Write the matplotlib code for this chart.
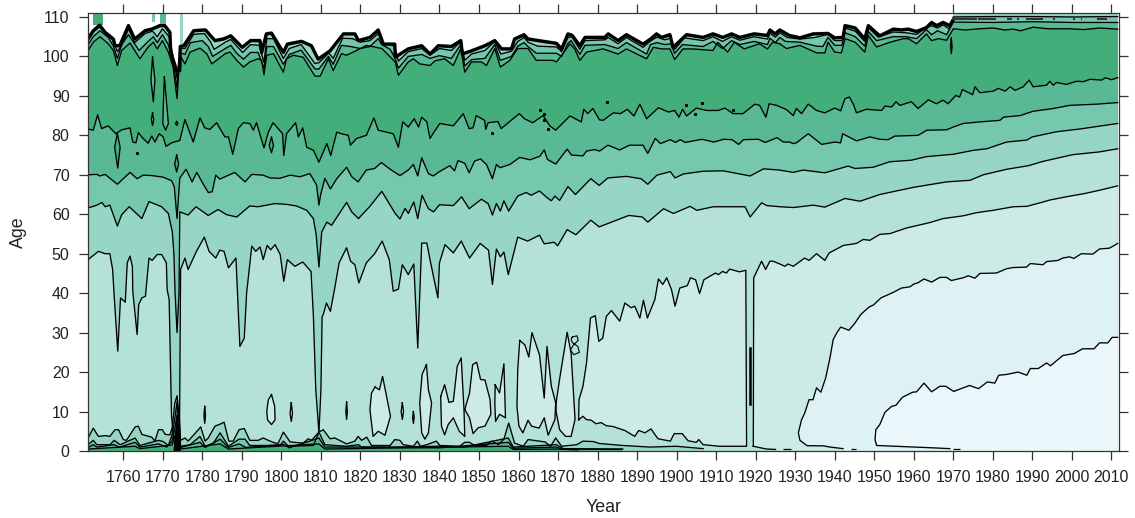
import numpy as np
import matplotlib
matplotlib.use('Agg')
import matplotlib.pyplot as plt

plt.rcParams['font.family'] = ['Liberation Sans', 'DejaVu Sans']

# contour lines, as (year, age)
# white edge of the surface at the top
top_edge = [(1751.1,105),(1752.4,107),(1754,108.4),(1755.4,106.6),(1757.5,104.9),(1757.9,103.2),(1759.1,103.2),(1761.3,108.3),(1762.9,104.9),(1765.5,107),(1767.2,107.4),(1769.3,108.3),(1770.5,108.3),(1771.8,106.6),(1772,101.5),(1773.5,96.9),(1774.3,96.9),(1774.4,103),(1775.3,103.2),(1777.8,107),(1780.8,107.2),(1783.2,104.5),(1785.3,104.9),(1787.2,105.7),(1790.1,102.8),(1792.2,104.5),(1794.6,104.5),(1795,101.5),(1796.2,106.2),(1797.5,106.4),(1800.5,101.5),(1801.5,103.6),(1805.1,104.3),(1807.6,103.2),(1809.3,99.8),(1812.3,101.9),(1815.7,106.2),(1818.6,106.2),(1819.5,104.5),(1822.4,105.3),(1824.5,107.2),(1825.8,103.6),(1828.7,103.6),(1828.8,100.3),(1832.1,102.4),(1835.5,103.2),(1837.6,101.1),(1839.7,103.2),(1843,103),(1845.4,104.5),(1845.8,101.1),(1848.1,101.9),(1851.5,103.2),(1854,104.5),(1855.7,102.4),(1858.2,102.4),(1859,104.9),(1861.4,106),(1862.4,104.9),(1865,104.5),(1869.6,103.8),(1870.9,102.4),(1872.5,106.2),(1873.6,105.8),(1875.5,103.2),(1876.8,105.3),(1881.8,105.3),(1882.7,106.2),(1885.2,104.5),(1887.3,106),(1891.5,103.6),(1893.4,104.9),(1894.9,106.2),(1896.2,105.3),(1898.3,106),(1899.1,102.8),(1902.5,106),(1906.7,105.3),(1909.2,106.2),(1911.7,105.3),(1913.9,106.2),(1916,105.3),(1919.6,106.2),(1923,105.8),(1923.6,107.2),(1924.9,106.2),(1926.1,107.2),(1928.5,105.8),(1931.2,105.2),(1934.6,106.2),(1938.3,106.3),(1940,105.2),(1942.1,105.3),(1942.6,108.3),(1945.2,107.7),(1947.6,104.9),(1948.5,108.3),(1951.4,105.7),(1954.8,107.4),(1956.9,107.2),(1958.6,107.4),(1960.7,106.8),(1963.2,107.8),(1964.5,109.1),(1965.8,108.3),(1967.4,109.1),(1969.1,108.3),(1969.8,109.5),(1970,111),(2011.6,111)]
top_line3 = [(1751.1,104.2),(1752.4,106.2),(1754.1,107.6),(1755.6,105.8),(1757.5,104),(1758.5,101.2),(1759.6,102.8),(1761.3,107),(1762.9,103.5),(1765.5,105.8),(1767.4,106.4),(1768.6,105),(1769.9,107),(1771.6,105),(1772.6,100),(1773.6,94.5),(1774.3,102),(1775.6,102),(1777.8,105.6),(1780.5,105.8),(1782,103.8),(1783,101.8),(1785.8,103.6),(1787.2,104.3),(1790.2,101),(1792.2,103),(1794.4,102.8),(1795.6,98.5),(1796.3,104.5),(1798,104.5),(1800.5,99.5),(1802,102),(1805,103),(1808.5,98.2),(1809.5,98.4),(1812,100.9),(1813.1,99.5),(1815.5,104.6),(1818,104.5),(1820,103.6),(1822.4,104),(1824.5,105.8),(1825.6,103.4),(1828.7,102.6),(1829.6,98.8),(1832.1,101.2),(1835.5,102),(1837.6,100.3),(1840,102),(1843,101.5),(1845.4,103.8),(1846.4,99),(1848.1,100.6),(1851.5,101.5),(1854,103.8),(1855.5,100.6),(1858.2,101.3),(1859.8,103.8),(1861.4,104.8),(1862.4,103.6),(1864.8,102.6),(1869.6,102.4),(1870.9,101.2),(1872.5,104.8),(1873.5,105),(1875.5,101.8),(1876.8,104),(1881.8,104.2),(1882.7,104.8),(1885.2,103.2),(1887.3,104.8),(1891.5,102.3),(1893.4,103.9),(1895,104.9),(1897,104.2),(1898.4,104.6),(1899.5,101.8),(1902,104.7),(1906.7,104),(1909.2,105),(1911.6,103.8),(1913.9,105),(1916,104.1),(1919.6,105),(1923,104.4),(1923.6,105.9),(1925,104.9),(1926.1,106),(1928,104.8),(1931.2,104.4),(1935,104.8),(1938.3,105.6),(1940,104),(1941.8,104),(1942.6,107.2),(1945.2,106.4),(1947.6,103.8),(1948.5,107.3),(1951,104.9),(1954.8,106.2),(1958,106),(1960.7,105.6),(1963.2,107.3),(1964.5,107.8),(1966,107.2),(1967.4,108),(1969,107),(1970,110),(1980,110.1),(1990,110.1),(2000,110),(2011.6,110.1)]
top_line2 = [(1751.1,103),(1752.4,105),(1754.1,106.5),(1756.2,104.8),(1757.5,102.6),(1758.5,99.5),(1759.6,103),(1761.3,105.5),(1764,101.5),(1766.3,103.8),(1767.6,105),(1768.6,103.5),(1769.9,105.5),(1771.4,103),(1772.6,98.5),(1773.6,92),(1774.3,101),(1775.6,100.5),(1777,103.5),(1780,104),(1781.5,102.5),(1782.6,100),(1785.8,102),(1787.2,102.8),(1788.7,100.8),(1790.4,99.3),(1792.2,101),(1794.1,101),(1795.6,97),(1796.3,102.5),(1798,102.5),(1800.5,98),(1802,100.5),(1805,101.6),(1808.5,96.8),(1809.5,96.8),(1811.9,100),(1813.1,98),(1815.2,102.8),(1817.5,102.5),(1820,102),(1822.4,102.5),(1824.5,104.5),(1825.4,103),(1827.5,101.8),(1828.8,99.5),(1829.6,97),(1832.1,100),(1835.5,100.5),(1837.6,99.5),(1840,100.2),(1843,99.5),(1845.4,103),(1846.4,97.6),(1848.1,99.2),(1851.5,99.5),(1854,103),(1855.4,99),(1858.2,100),(1859.8,102.6),(1861.4,103.5),(1862.4,102.5),(1864.5,100.8),(1869.6,100.8),(1870.9,100),(1872.5,103.3),(1873.3,104),(1875.5,100.5),(1876.8,102.8),(1881.8,103),(1885.2,102),(1887.3,103.5),(1892.4,100.6),(1893.4,103),(1895,103.5),(1897,103),(1898.5,103.2),(1899.5,100.8),(1901.5,103),(1906.7,102.5),(1909.2,103.8),(1911.6,102),(1913.9,104),(1916,103),(1919.6,103.8),(1923,103),(1923.6,104.6),(1925,103.5),(1926.1,104.8),(1927.5,103.8),(1931.2,103.6),(1935.4,102.6),(1937,102.5),(1938.3,104.8),(1940,102.8),(1941.8,102.8),(1942.6,106),(1945.2,105),(1947.6,102.6),(1948.5,106.3),(1950.6,104),(1954.8,105),(1958,105),(1960.7,104.5),(1963.2,106.8),(1964.5,105.5),(1966,106.5),(1968.3,105.5),(1970,108.7),(1980,108.6),(1990,108.8),(2000,108.6),(2011.6,108.6)]
top_line1 = [(1751.1,101.5),(1752.4,103.6),(1754.1,105),(1756.2,103.2),(1757.5,101.5),(1758.5,97.7),(1759.6,101.5),(1761.7,103.4),(1764.2,99.4),(1766.3,102.4),(1767.6,103.6),(1768.6,101.9),(1769.9,104),(1771.4,101.1),(1772.6,97.3),(1773.6,89.3),(1774.3,100.3),(1775.6,98.1),(1776.9,101.1),(1779.4,102.1),(1781.1,100.7),(1782.4,98.1),(1785.8,100.7),(1787,101.1),(1788.7,99),(1790.4,97.3),(1792,98.6),(1794.1,99.4),(1795,99),(1795.6,95.4),(1796.3,100.3),(1798,100.7),(1800.5,96),(1801.3,99.4),(1803,100.3),(1805.5,99.8),(1808.5,95),(1809.8,95),(1811.9,99.4),(1813.1,96.4),(1815.2,100.7),(1816.5,100.3),(1819,101.5),(1821.5,102.8),(1825.4,102),(1828.8,98.6),(1829.6,95.2),(1832.1,98.6),(1833.4,99.4),(1835,98.1),(1837.6,97.7),(1838.9,98.9),(1841.3,99.4),(1843.5,97.7),(1845.4,102),(1846.4,96),(1848.1,98.6),(1850.6,98.6),(1851.9,97.7),(1854,102),(1855.4,97.3),(1857.8,99),(1859.8,102),(1862.4,102),(1864.5,99),(1868.7,99),(1869.6,98.6),(1872.1,101.9),(1873,103.2),(1874.2,101.9),(1875.5,99),(1877.2,101.1),(1881.4,101.9),(1885.2,100.6),(1887.3,101.9),(1892.4,99.4),(1894.1,102.3),(1896.2,101.9),(1898.3,101.9),(1899.5,99.2),(1901.6,101.9),(1904.1,101.9),(1909.2,101.5),(1910.4,103.6),(1912.9,101.1),(1914.6,103.6),(1917.1,101.9),(1920.9,103.2),(1923,101.9),(1924.3,103.6),(1926.1,103.2),(1927.8,102),(1931.2,102.8),(1935.4,100.9),(1937.5,100.9),(1938.3,103.6),(1940,101.1),(1941.7,100.9),(1942.6,104.5),(1945.2,103.6),(1947.6,101.1),(1948.5,105.3),(1950.6,102.4),(1954,103.6),(1957.4,104.5),(1958.6,104.5),(1960.7,103.2),(1963.2,105.7),(1964.5,104),(1966.2,104.5),(1968.3,104.1),(1970,107),(1973,106.7),(1976.7,107),(1980.1,107.2),(1983,106.7),(1985.2,106.9),(1987,106.5),(1990.2,107.4),(1994,107),(1999.5,107),(2003,106.8),(2007.1,107.2),(2011.6,106.9)]
top_dash_year0 = [1969.6, 1976.3, 1983.5, 1986.2, 1988.3, 1995.3, 2000.3, 2002.2, 2006.4]
top_dash_year1 = [1975.9, 1980.9, 1984.8, 1986.6, 1992.7, 1995.7, 2000.7, 2002.6, 2008.8]
top_dash_age = [109.5, 109.5, 109.5, 109.5, 109.5, 109.5, 109.5, 109.5, 109.5]

# level lines running across the whole surface
level_67 = [(1751.1,81.6),(1752.4,81.3),(1753.5,85.2),(1754.5,81.7),(1756.2,82.4),(1758.1,80.4),(1759.6,81.4),(1761.7,81.9),(1762.4,78.3),(1763.2,78.1),(1763.8,80.7),(1765,79.2),(1766.3,78),(1767.2,79.8),(1768,78.3),(1769.1,80.4),(1770.1,79.6),(1770.8,77.2),(1772.2,78.1),(1774.3,78.7),(1775.6,84),(1777.7,78.3),(1779.4,84.4),(1780.6,81.9),(1781.9,81.5),(1783.6,83.2),(1785.7,79.6),(1786.6,79.6),(1787.7,75.2),(1789.1,81.7),(1790.4,83.2),(1792,83),(1792.9,81.3),(1793.7,83.2),(1795.6,76.8),(1796.7,80.8),(1797.9,83.2),(1800.3,80.4),(1800.6,74.9),(1801.3,80.4),(1803.6,83.2),(1804.3,79.6),(1805.4,81.9),(1806.4,77),(1808.1,76.2),(1809.5,73.2),(1811.5,77.9),(1812.5,74.9),(1814,80.8),(1815.2,80.4),(1816.9,80),(1817.5,77.5),(1819,79.2),(1821.5,80),(1823.4,84.4),(1824.5,81.3),(1828.3,80.4),(1829.6,77),(1830.7,83.4),(1832.1,82.1),(1833.6,84.2),(1834.7,82.1),(1835.5,84.6),(1836.8,83.4),(1837.6,79.2),(1838.6,80.8),(1840.1,83),(1843.5,82.4),(1846,85.5),(1847.5,81.7),(1848.5,81.9),(1849.3,85),(1851.4,83.8),(1851.7,81.5),(1852.3,83.2),(1854.8,83.5),(1855.6,81.7),(1860.2,85.5),(1861.5,84.2),(1863.6,83.2),(1866.2,85),(1867.9,82.4),(1869.4,81.3),(1873,84.9),(1875.9,83.4),(1876.5,86.6),(1877.5,85.5),(1878.8,86.8),(1880.5,83.9),(1881.4,83.8),(1884,85.7),(1885.8,85.5),(1887.5,86.6),(1889.2,84.9),(1890.7,87.9),(1892.4,84.2),(1895.4,87),(1897.9,85.9),(1899.5,86.3),(1900.6,84.6),(1901.5,86.6),(1902.5,84.9),(1905,86.9),(1907.6,86.3),(1910.5,86.3),(1912.2,86.9),(1914.3,85.5),(1916.8,85.5),(1919.8,87.9),(1921,87.6),(1922.6,84.6),(1923.4,88),(1925.3,87.6),(1927.8,86.5),(1929.5,85),(1930.3,86.8),(1931.6,85.5),(1933.3,87.9),(1935.4,86.3),(1937.5,85.7),(1940,86.9),(1941.5,86.2),(1942.6,89.3),(1943.7,89.7),(1944.7,87.9),(1945.5,85.7),(1948,86.6),(1951.9,86.3),(1952.7,87.4),(1954.4,87.2),(1955.5,88.5),(1956.5,87.6),(1959.4,88.5),(1961.1,86.8),(1963.7,89),(1965.7,88),(1967.4,88.9),(1968.7,88),(1970.6,90.1),(1971.6,89.7),(1972.3,91.6),(1974.9,90.3),(1975.5,92.3),(1976.7,90.8),(1980.1,91.2),(1981.4,91.9),(1983.1,91.2),(1984.4,92.3),(1985.6,91.4),(1987.7,92.3),(1989.2,94),(1990.2,92.3),(1993.6,92.7),(1994.4,93.7),(1995.3,92.7),(1996.1,93.4),(1998.6,92.9),(2001.2,93.7),(2002.9,93.6),(2004.6,94.2),(2007.5,94),(2008.5,94.6),(2010,94.1),(2011.6,94.6)]
level_56 = [(1751.1,70),(1753.3,70.1),(1754.1,69.7),(1755.4,70.1),(1758.5,67.6),(1761.7,70.6),(1763.5,69),(1765,69.9),(1767.2,69.8),(1770.1,69.4),(1772.2,68.5),(1772.9,67),(1773.6,58.9),(1774.3,69.2),(1775.9,71.4),(1777.4,68.2),(1778.6,70.6),(1779.9,68.2),(1781.5,65.5),(1782.5,65.7),(1783.4,69.9),(1784.4,68.9),(1788.2,70.6),(1790.8,68.2),(1792.5,70.1),(1795.4,69.9),(1797.1,69.2),(1799.6,69.1),(1802.2,69.9),(1804.7,69.5),(1807.2,70.3),(1808.9,67.4),(1809.5,62.3),(1809.9,64.8),(1811,69.1),(1812.4,66.4),(1814,69),(1816.5,71.9),(1817.8,69.5),(1819.4,68.2),(1821.5,71.2),(1823.6,71.6),(1825.3,73.1),(1827.8,71.2),(1830,69.8),(1832.1,71.2),(1833.4,72.6),(1834.5,69.7),(1835.5,74.3),(1837.2,70.3),(1838.4,69.7),(1840,70.8),(1842.6,72.3),(1843.8,71),(1844.7,73.6),(1846.4,72.9),(1847.5,70.5),(1848.9,73.5),(1850.4,74),(1851.9,72.6),(1853.4,69),(1854.4,72.6),(1855.3,71.8),(1857.8,72.6),(1860.3,74.4),(1862.9,73.8),(1865.4,74.7),(1866.5,76.3),(1867.3,73.9),(1869.4,72.7),(1872.3,76.5),(1873.4,75),(1876.3,74.8),(1877.2,76),(1879.2,76.4),(1880.5,76),(1882.6,77.5),(1885.6,76.3),(1888.1,77.5),(1891.5,77.5),(1892.7,75.4),(1894.6,79.2),(1895.9,77.9),(1898.4,78.9),(1899.7,78.2),(1900.9,78.9),(1902.2,78.2),(1906.4,79),(1909.4,78.3),(1911.9,79),(1914,78.9),(1915.7,77.7),(1916.9,78.9),(1920.7,79),(1922.4,78.2),(1925.4,79.4),(1927,78.3),(1928.6,78.3),(1929.5,77.9),(1930.3,78.1),(1933.3,80.4),(1936.7,77.7),(1940,78.3),(1941.5,78.1),(1942,80.4),(1945.5,78.6),(1948.9,79.6),(1951.4,79),(1953.5,78.9),(1955.2,79.8),(1961.1,80),(1963.3,81.3),(1968.3,81.4),(1970,82.1),(1972.5,83),(1976.7,83.4),(1981.8,83.8),(1982.7,84.6),(1986.9,85),(1990.2,86.1),(1995.3,86.8),(1999.5,87.6),(2006.3,87.9),(2011.6,88.3)]
level_45 = [(1751.1,61.6),(1753.3,62.3),(1754.6,63),(1755.4,61.9),(1756.6,62.3),(1758.5,57),(1759.6,59.9),(1761.5,61.9),(1764.7,58.9),(1766.5,63.2),(1769.7,61.9),(1771.4,60.2),(1772.4,55.5),(1772.8,50),(1773.1,40),(1773.6,30),(1774.1,40),(1774.3,60.6),(1776.4,59.8),(1778.4,61.9),(1781.5,59.7),(1784,61.2),(1786.1,59.9),(1788.7,59.3),(1792,62.1),(1794.1,61.9),(1798.4,62.7),(1801.3,62.5),(1803.8,62.1),(1806.4,61),(1808.1,58.9),(1808.8,54.8),(1809.5,46.6),(1810.2,55.5),(1811.5,58),(1812.7,57.2),(1816.5,63),(1817.8,60.6),(1819.5,58.9),(1822.4,62),(1825.4,65.8),(1828.8,60.2),(1830,58.8),(1831.3,61.5),(1832.1,60.2),(1833.5,63.1),(1834.5,58.9),(1835.6,64.8),(1837.2,61.4),(1838.5,60.6),(1840,62.4),(1843.5,62.2),(1845.6,64.4),(1847.5,61.4),(1850.6,63.8),(1852.3,62.7),(1853.4,59.8),(1854.4,62.7),(1855.4,60.8),(1856.3,63.4),(1857.5,60.8),(1859.8,64.6),(1861.9,65.5),(1863.2,64.8),(1865.3,65.9),(1867,64.4),(1868.3,63.4),(1869.2,64.6),(1870.4,63.5),(1872.5,67),(1874.4,65),(1878.3,69),(1880.4,67.3),(1882.6,69.2),(1887.3,69.6),(1891,69),(1892.7,67.6),(1895,69.9),(1898.4,70.8),(1899.6,69.2),(1901.7,70.2),(1906.7,70.9),(1911.8,71),(1918.6,69.7),(1922,71.5),(1926,71.2),(1929.5,70.6),(1932,71.2),(1937.5,70.5),(1943.4,72.2),(1945.1,71.6),(1949.7,71.9),(1953.9,73.3),(1959.4,73.7),(1963.2,74.6),(1970,75.2),(1975.1,76.2),(1978.5,76.6),(1983.5,78.3),(1988.6,78.8),(1990,79.6),(1996.1,80.9),(2002,81.6),(2011.6,83)]
level_34 = [(1751.1,48.5),(1753.7,50.6),(1755.4,50),(1756.6,50),(1757.3,46),(1757.7,39.2),(1758.6,25.3),(1759.3,38.8),(1760.5,37.7),(1761,47.7),(1761.7,49.4),(1762.3,46.8),(1762.4,40.5),(1763.5,29.5),(1763.9,37.1),(1764.7,38.8),(1765.6,39.2),(1766.5,48.9),(1767.3,48.3),(1768.6,49.8),(1769.7,49.8),(1770.9,47.7),(1771.1,40.9),(1771.6,38.4),(1772.2,8.8),(1772.9,2),(1773.6,0.5),(1774.2,2),(1774.4,30),(1774.5,46),(1775.6,48.9),(1776.4,46),(1778.5,50.6),(1780.5,54.2),(1781.7,50.6),(1783.4,48.9),(1784.4,50.9),(1785.5,50.6),(1786.6,46.4),(1788.5,48.9),(1789.5,26.5),(1790.6,28.6),(1791.2,40),(1792.5,51.9),(1793.5,50.6),(1794.6,51.7),(1795.4,48.5),(1796.4,52.1),(1797.3,51),(1798.4,52.3),(1799.7,49.8),(1800.6,43),(1801.5,48.5),(1803.4,46.8),(1805.4,47.9),(1807.5,45.5),(1808.1,34.1),(1808.7,15.5),(1809.5,4.6),(1810,15.5),(1810.3,34),(1810.6,34.6),(1811.4,37.5),(1812.4,35.4),(1813.5,41.3),(1814.6,47.7),(1816.5,51.5),(1817.5,48.1),(1818.6,47.2),(1819.6,42.6),(1821.5,47.7),(1823.6,50.0),(1825.5,53.2),(1827.3,48.5),(1828.3,40.5),(1829.6,41),(1830.6,47.2),(1832.1,44.7),(1833.5,47.4),(1834.5,26.1),(1835.5,52.7),(1836.8,52.7),(1837.7,48),(1839.6,38.8),(1840,47.7),(1841.4,52.3),(1843.5,50.2),(1845.5,53.2),(1847.6,48.9),(1850.3,52.6),(1852.4,50.9),(1853.4,42.2),(1854.4,51.2),(1855.4,49.2),(1856.3,50.4),(1857.4,44.7),(1859.8,54.2),(1862.3,53.2),(1865.3,54.7),(1866.5,52.5),(1869,52.9),(1869.9,52),(1872.3,56.1),(1874.5,54.8),(1878.3,58.5),(1880.4,56.8),(1887.9,59.7),(1891.3,59.3),(1892.7,58),(1896.7,61.4),(1899.2,60.2),(1903.4,62),(1905.1,61),(1909.3,61.9),(1917.3,61.9),(1918.6,59.3),(1921.5,62.9),(1922.8,62.2),(1926.1,61.9),(1929.5,61.7),(1934.6,62.3),(1937.5,61.8),(1942.6,64),(1946.4,63.3),(1951.4,65),(1959.8,66.8),(1968.3,68.2),(1974.2,68.6),(1977.6,70),(1983.5,71.4),(1989,72.3),(1992.7,73.4),(2000.2,75.1),(2007,75.8),(2011.6,76.6)]

# lines close to age 0
low_34 = [(1751.1,3.3),(1752.4,5.8),(1753.7,3.7),(1755.6,3.9),(1756.6,3.7),(1757.9,5.4),(1758.8,5.4),(1760,2.9),(1760.8,2.7),(1763,6.1),(1763.8,6.3),(1764.7,4.2),(1767.2,3.5),(1768,2.5),(1768.9,5.4),(1769.9,5.4),(1770.6,4.2),(1771.8,4.1),(1772.4,6),(1773,12),(1773.6,14),(1774.2,8),(1774.5,2.7),(1775.6,3.3),(1776.4,2.5),(1778.1,4.4),(1779.6,6.1),(1780.7,2.5),(1781.5,3.3),(1783.2,6.3),(1784.5,6.8),(1785.5,7.3),(1786.7,2.5),(1787.8,2.5),(1789.3,5.4),(1790.6,5.7),(1792,2.7),(1794.1,2.7),(1795.4,3.3),(1796.7,2.7),(1798.4,2),(1799.2,2),(1800.5,4.8),(1802.2,2.3),(1805.5,2),(1806.8,3.1),(1807.6,2.7),(1809.5,4.8),(1810.6,5.4),(1812.3,3.1),(1813.5,3.3),(1816.5,1.8),(1818.6,2.5),(1819.4,3.7),(1820.3,2.7),(1821.6,3.5),(1822.8,1.4),(1827.5,1.4),(1828.7,2.9),(1830,2.7),(1830.8,1.6),(1833.4,1.2),(1834.4,2.5),(1835.2,1.2),(1836.8,1.6),(1839.2,2.5),(1840.1,1.4),(1845.1,1.2),(1846.4,2.2),(1847.6,2.2),(1848.9,1.4),(1851.9,1.4),(1853.2,2.5),(1854.9,1.6),(1856.3,3),(1857.5,7.1),(1859,2),(1861.2,1.2),(1862.4,2.9),(1866.7,2.3),(1868.1,1.2),(1869.4,3.3),(1870.9,1.2),(1874.7,1.6),(1876.3,2.5),(1878.9,2.4),(1880.5,1.9),(1886.4,1.4),(1893.2,1),(1899.9,1.2),(1906.7,0.6)]
low_45 = [(1751.1,1.6),(1752.4,2.7),(1753.3,1.6),(1756.6,1.6),(1757.7,2.7),(1759.2,1.6),(1763,3.3),(1764.2,1.4),(1768.9,2.7),(1770.1,2.4),(1771.4,1.4),(1772.3,4),(1773,8),(1773.6,12.5),(1774.2,6),(1774.5,1.2),(1776.9,1.6),(1779.4,3.7),(1780.7,1.2),(1782.8,2),(1784.5,4.6),(1786.6,1.2),(1789.3,3),(1790.8,3),(1792,1.4),(1799.7,1.4),(1800.5,2.5),(1801.8,1.2),(1808.1,1.4),(1809.5,4.8),(1811,1.6),(1816.5,1.2),(1819.5,1.6),(1820.3,1),(1828.3,1),(1839.7,1.2),(1846.2,1),(1857.4,3.3),(1858.7,1),(1869.6,1.6),(1871.3,0.6),(1886.4,0.5)]
low_56 = [(1751.1,0.9),(1752.4,1.6),(1753.3,1),(1757.7,1.6),(1759,1),(1763,2.2),(1764.2,1),(1768.9,1.8),(1771,1),(1772.3,2.5),(1773,5.5),(1773.6,9),(1774.2,4),(1774.5,0.9),(1779.4,2.2),(1780.7,0.9),(1784.5,3),(1786.6,0.9),(1789.3,1.8),(1791,0.9),(1800.5,1.7),(1802,0.8),(1809.5,3.3),(1811,1),(1820,1),(1840,0.8),(1857.4,2.2),(1858.7,0.7),(1869.6,1),(1870.9,0.5),(1886,0.4)]
low_67 = [(1751.1,0.5),(1763,1.2),(1764.2,0.6),(1772.3,1.5),(1773,3.5),(1773.6,6),(1774.2,2.5),(1774.5,0.5),(1784.5,1.8),(1786.6,0.5),(1809.5,1.8),(1811,0.5),(1857.4,1.2),(1858.7,0.4),(1869.6,0.5),(1875,0.3)]
# black knot of contours at the 1773 spike
spike_core = [(1772.7,0),(1773,3),(1773.4,7.5),(1773.6,13),(1773.8,7.5),(1774.2,4),(1774.5,0)]
low_dash_year0 = [1927, 1944, 1970]
low_dash_year1 = [1929, 1945.3, 1971.6]
low_dash_age = [0.6, 0.6, 0.5]

# the pale areas on the right, age 0 points are the axis and get no outline
area_2a = [(1875.2,7.9),(1875.3,13),(1876.3,16.4),(1877.2,22.3),(1878.2,33.7),(1879.4,34.3),(1880.3,27.8),(1881.3,28.6),(1882.2,34.1),(1883.5,35.6),(1885.6,32.9),(1886.9,37.5),(1888.5,36.3),(1889.4,36.7),(1890.7,33.7),(1891.6,38.2),(1892.6,33.7),(1894.5,38.4),(1895.4,43.6),(1896.5,42.2),(1897.5,43.9),(1898.7,40.9),(1899.6,36.7),(1900.8,41.3),(1902.7,41.9),(1903.5,43.9),(1904.8,43.4),(1905.8,39.9),(1906.9,43.4),(1909.8,45.1),(1910.6,44.7),(1911.6,45.5),(1912.6,45.1),(1913.4,46.1),(1915.9,45.4),(1917.5,45.8),(1917.7,1.2),(1910.9,1.2),(1906.7,1.6),(1905.6,2.9),(1905,2.2),(1902.9,2.6),(1901.4,4.4),(1899.4,4.4),(1898.4,2.5),(1895.3,3.1),(1893.5,5.6),(1892,4.6),(1890.4,5.2),(1889.4,3.7),(1886.9,5.2),(1883.9,6.2),(1882.2,6.4),(1880.9,7.2),(1879.6,6.9),(1878.4,7.8),(1877.1,8),(1876.3,8.8)]
area_2b = [(1919.4,1.2),(1919.5,43.9),(1921.5,48.1),(1922.5,46),(1923.6,48.1),(1924.4,48.1),(1926.1,47.4),(1927.4,46.8),(1928.2,47.4),(1929.5,46.8),(1932.4,48.9),(1933.5,48.3),(1935.4,50),(1937.5,48.3),(1938.6,50.2),(1942.2,52.1),(1945.5,52.6),(1947.2,53.6),(1948.9,53.4),(1951.4,54.9),(1954,55.1),(1958.1,56.5),(1964.1,57.9),(1967.4,58.9),(1972.5,59.6),(1975.9,60.4),(1980.1,61),(1985.2,61.9),(1988.6,62),(1992.7,63.1),(1994.4,63.6),(1999.5,64.6),(2003,65.2),(2007.1,66.1),(2011.6,67.2),(2011.6,0),(1926,0),(1925,0.4),(1922.7,0.5)]
area_1 = [(1942.1,0.6),(1938.8,1),(1937.2,1.3),(1933,1.35),(1931.2,2.7),(1930.8,4.6),(1931.6,7.9),(1932.4,9.6),(1933.5,13),(1934.5,13),(1935.4,16),(1936.5,14.9),(1937.7,18.5),(1938.8,23.6),(1939.6,28.2),(1940.5,29.9),(1941.5,31.4),(1943.6,30.6),(1945.1,32.4),(1946.6,34.6),(1948.7,36.5),(1949.8,37),(1951.7,38.8),(1954.8,40.2),(1956.9,41.3),(1959,41.6),(1960,42.3),(1961,42.6),(1962.6,43.6),(1964.5,42.8),(1966.6,44),(1968.3,44),(1969.5,43.2),(1972.5,43.9),(1973.8,44.4),(1975.5,43.8),(1976.7,45),(1980.9,45.1),(1983.5,46.2),(1985.2,46.5),(1988.5,46.6),(1989.5,47.5),(1992.7,47.2),(1993.6,48),(1996.5,48.3),(1997.7,48.9),(1999.4,49.2),(2000.5,48.8),(2002.4,50),(2005.3,49.9),(2007,51.2),(2009.5,51.4),(2011.6,52.6),(2011.6,0),(1942.5,0)]
area_0 = [(1969.1,0.6),(1964.9,0.8),(1950.6,1.4),(1950.2,2.9),(1950.4,5.4),(1951.4,6.7),(1952.7,9.8),(1954.4,11.3),(1955.5,11.6),(1957.1,13.6),(1959.7,14.9),(1960.7,15),(1962.6,17.2),(1964.5,15),(1966.6,16.4),(1968.1,16.4),(1970.1,15.1),(1974.1,16.6),(1976.4,15.8),(1978.6,17.5),(1980.5,17.2),(1981.5,19.2),(1983.5,19.4),(1986.4,20),(1988.6,19.2),(1989.5,20.9),(1991.5,20.9),(1993.6,22.3),(1994.6,21.6),(1997.7,24.2),(2000.6,24.7),(2002.7,25.9),(2005.6,25.9),(2007,27.4),(2009.1,27.4),(2010.2,28.8),(2011.6,28.8),(2011.6,0),(1969.5,0)]

# closed islands of the next paler band inside level 3
islands_pale = [
    [(1797.5,14.3),(1796.7,13),(1796.3,10.1),(1796.5,7.9),(1797.5,6.7),(1798.4,7.9),(1798.3,11.3)],
    [(1823.7,16.2),(1822.8,14.7),(1822.4,10.5),(1823.2,3.7),(1824.5,5),(1826.2,4),(1827.6,8.8),(1826.6,13.9),(1825.6,18.9),(1824.8,15.5)],
    [(1836.7,21.9),(1835.6,19.4),(1835,12.2),(1835.5,4.6),(1836.3,3),(1837.2,4.6),(1838,12.2),(1837.2,15.5)],
    [(1840.3,13.8),(1841.3,16.8),(1842.4,12.3),(1843.5,12.6),(1844.5,21.5),(1845.5,23.6),(1846.2,10.5),(1846.4,3.7),(1845,5),(1843.5,8.4),(1842.2,6.7),(1841.3,4.1),(1840.5,6.3)],
    [(1846.4,10.5),(1847.6,14.7),(1848.4,21.9),(1849.4,22.5),(1850.4,18.1),(1851.5,18),(1852.8,13),(1853,9.3),(1851.5,6.3),(1849.8,5.9),(1848.5,4.4),(1847.6,8.4)],
    [(1854.1,16.8),(1855.2,14.7),(1856.3,22.1),(1856.7,8.4),(1855.2,9.3),(1854.2,7.5),(1854,12)],
    [(1860.3,28),(1861.6,26.9),(1862.6,23.8),(1863.4,30),(1865.3,24.4),(1866.5,13.4),(1867.2,26.5),(1868.3,16.4),(1869.4,12.2),(1869.2,8),(1867.5,4),(1866.5,8.4),(1865.2,5.8),(1863.3,6.3),(1862.4,7.8),(1861.1,4.6),(1860.1,6.3),(1859.6,11.3),(1859.8,20.6)],
    [(1869.5,12.2),(1870.5,18.9),(1872.3,30.1),(1873.3,24.8),(1874.3,8),(1873.3,3.7),(1871.9,3.7),(1870.4,5.4),(1869.5,10)],
]
slivers_pale = [
    [(1780.6,11.3),(1780.8,9),(1780.6,7),(1780.4,9)],
    [(1802.5,12.2),(1802.8,9.5),(1802.5,7.5),(1802.2,9.5)],
    [(1816.5,12.4),(1816.7,10),(1816.5,8),(1816.3,10)],
    [(1830.6,12.2),(1830.9,10),(1830.6,8),(1830.3,10)],
    [(1833.4,10),(1833.6,8.5),(1833.4,7),(1833.2,8.5)],
]
flu_year = [1918.5, 1918.5]
flu_age = [12, 26]
eight_loop = [(1873.6,28.9),(1874.8,29.2),(1875.1,28),(1874,27),(1873.1,25.6),(1874,24.4),(1875.4,25),(1875,26.5),(1873.6,27.5),(1873.3,28.3),(1873.6,28.9)]

# islands up in the dark band
islands_l6 = [
    [(1767.4,99.8),(1768,94),(1767.6,88.5),(1767,94)],
    [(1767.4,85.7),(1767.7,84),(1767.4,82.5),(1767.1,84)],
    [(1770.4,94.8),(1770.8,90),(1771.4,83),(1770.7,81.3),(1770,83),(1770.2,90)],
    [(1773.5,83.5),(1773.8,83),(1773.5,82.5),(1773.2,83)],
    [(1969.5,104.6),(1969.7,102.5),(1969.5,100.7),(1969.3,102.5)],
]
islands_l7 = [
    [(1758.5,80.4),(1759.2,77),(1758.6,71.7),(1757.8,77)],
    [(1797.5,79.5),(1798,77.5),(1797.5,75.6),(1796.9,77.5)],
    [(1773.5,75),(1774,72.8),(1773.5,70.7),(1773,72.8)],
]
speck_year = [1763.5, 1853.4, 1867.5, 1865.4, 1882.5, 1902.3, 1904.6, 1906.5, 1914.3, 1866.4, 1866.4]
speck_age = [75.5, 80.5, 81.7, 86.4, 88.4, 87.6, 85.5, 88.3, 86.4, 83.8, 85.3]

# bars of missing values that reach the top of the plot
bar_year0 = [1752.3, 1767.3, 1769.3, 1774.3]
bar_year1 = [1754.8, 1768, 1770.8, 1775.1]
bar_age0 = [108, 108.6, 108, 102]
bar_age1 = [111, 111, 111, 111]
bar_color = ['#43AE79', '#75C7AD', '#58B994', '#97D6C5']

band_colors = ['#EAF7FB', '#DEF1F5', '#CDEBE6', '#B4E2D8', '#97D6C5', '#75C7AD', '#58B994', '#43AE79']
year_ticks = list(range(1760, 2011, 10))
age_ticks = list(range(0, 111, 10))

fig = plt.figure(figsize=(11.35, 5.18), dpi=100)
ax = fig.add_axes([88 / 1135, 67 / 518, 1031.3 / 1135, 438 / 518])


def fill_under(curve, color, z):
    pts = np.array(curve)
    xs = np.r_[pts[:, 0], pts[-1, 0], pts[0, 0]]
    ys = np.r_[pts[:, 1], 0, 0]
    ax.fill(xs, ys, color=color, lw=0, zorder=z)


def line(curve, z=5, lw=0.95, close=False):
    pts = np.array(curve, dtype=float)
    if close:
        pts = np.vstack([pts, pts[:1]])
    pts[pts[:, 1] == 0, 1] = np.nan
    ax.plot(pts[:, 0], pts[:, 1], color='black', lw=lw, zorder=z, solid_joinstyle='round')


def blob(curve, color, z=3, close=True):
    pts = np.array(curve)
    ax.fill(pts[:, 0], pts[:, 1], color=color, lw=0, zorder=z)
    line(curve, close=close)


# paint from the top of the surface downwards
fill_under(top_edge, band_colors[4], 1)
fill_under(top_line3, band_colors[5], 1)
fill_under(top_line2, band_colors[6], 1)
fill_under(top_line1, band_colors[7], 1)
fill_under(level_67, band_colors[6], 1)
fill_under(level_56, band_colors[5], 1)
fill_under(level_45, band_colors[4], 1)
fill_under(level_34, band_colors[3], 1)
fill_under(low_34, band_colors[4], 2)
fill_under(low_45, band_colors[5], 2)
fill_under(low_56, band_colors[6], 2)
fill_under(low_67, band_colors[7], 2)

for y0, y1, a0, a1, c in zip(bar_year0, bar_year1, bar_age0, bar_age1, bar_color):
    ax.fill_between([y0, y1], a0, a1, color=c, lw=0, zorder=1)

blob(area_2a, band_colors[2])
blob(area_2b, band_colors[2])
blob(area_1, band_colors[1], close=False)
blob(area_0, band_colors[0], close=False)

for isl in islands_pale + slivers_pale:
    blob(isl, band_colors[2])
for isl in islands_l6:
    blob(isl, band_colors[6])
for isl in islands_l7:
    blob(isl, band_colors[7])

for curve in [top_line1, top_line2, top_line3, level_67, level_56, level_45, level_34, low_34, low_45, low_56, low_67]:
    line(curve)

# the pre-1970 edge is so crowded with contours that it reads as a thick black band
edge = np.array(top_edge)
edge = edge[edge[:, 0] < 1970]
ax.plot(edge[:, 0], edge[:, 1] - 0.5, color='black', lw=2.4, zorder=5, solid_joinstyle='round')

ax.hlines(top_dash_age, top_dash_year0, top_dash_year1, color='#333333', lw=1.5, zorder=5)
ax.hlines(low_dash_age, low_dash_year0, low_dash_year1, color='black', lw=0.9, zorder=5)
core = np.array(spike_core)
ax.fill(core[:, 0], core[:, 1], color='black', lw=0, zorder=5)

ax.plot(flu_year, flu_age, color='black', lw=1.8, zorder=5)
line(eight_loop, lw=0.8)
ax.plot(speck_year, speck_age, 's', color='black', ms=1.2, zorder=5)

ax.set_xlim(1751.07, 2012)
ax.set_ylim(0, 111)
ax.set_xticks(year_ticks)
ax.set_yticks(age_ticks)
ax.tick_params(axis='both', which='major', direction='out', length=6.3, width=0.9, labelsize=11.5,
               top=True, right=True, color='#333333', labelcolor='#222222')
ax.tick_params(axis='x', pad=7.5)
ax.tick_params(axis='y', pad=7)
ax.set_xlabel('Year', fontsize=12.8, color='#222222', va='center')
ax.set_ylabel('Age', fontsize=12.8, color='#222222', va='center')
ax.xaxis.set_label_coords(0.5, -0.128)
ax.yaxis.set_label_coords(-0.0679, 0.5)
for s in ax.spines.values():
    s.set_linewidth(0.9)
    s.set_color('#333333')
    s.set_zorder(6)

fig.savefig('out.png', dpi=100)
